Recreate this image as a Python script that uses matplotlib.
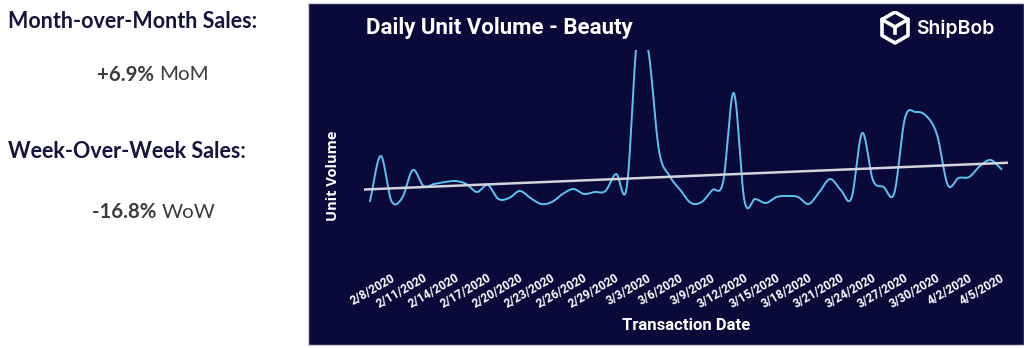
import numpy as np
import pandas as pd
import matplotlib
matplotlib.use("Agg")
import matplotlib.pyplot as plt
from matplotlib.patches import Rectangle, Polygon
from matplotlib.transforms import ScaledTranslation

# ---------------- data ----------------
dates = pd.date_range("2020-02-08", periods=60, freq="D")
unit_volume = [49, 94, 49, 52, 80, 64, 66, 68, 69, 66,
               58, 65, 51, 52, 59, 52, 46, 48, 56, 61,
               56, 58, 59, 76, 63, 215, 200, 100, 74, 60,
               47, 48, 60, 68, 157, 49, 51, 47, 53, 54,
               53, 46, 58, 71, 60, 52, 117, 70, 63, 57,
               132, 138, 134, 115, 65, 72, 73, 84, 90, 81]
tick_labels = ["2/8/2020", "2/11/2020", "2/14/2020", "2/17/2020", "2/20/2020",
               "2/23/2020", "2/26/2020", "2/29/2020", "3/3/2020", "3/6/2020",
               "3/9/2020", "3/12/2020", "3/15/2020", "3/18/2020", "3/21/2020",
               "3/24/2020", "3/27/2020", "3/30/2020", "4/2/2020", "4/5/2020"]
title = "Daily Unit Volume - Beauty"
mom_value, mom_unit = "+6.9%", "MoM"
wow_value, wow_unit = "-16.8%", "WoW"

# ---------------- styling ----------------
W, H = 1024, 348
BG = "#09093a"
LINE = "#5cc3f2"
TREND = "#d4d4dc"
NAVY = "#14143c"
GRAY = "#3c3c3c"

def fx(px):
    return px / W

def fy(py):
    return 1 - py / H

fig = plt.figure(figsize=(W / 100, H / 100), dpi=100)
fig.patch.set_facecolor("white")

# dark panel
fig.patches.append(Rectangle((fx(308), fy(345)), 1 - fx(308), (345 - 3) / H,
                             transform=fig.transFigure, facecolor=BG,
                             edgecolor="#cfcfd6", linewidth=1.0, zorder=-5))

# left KPI text
HEAD_FS, VAL_FS = 15.5, 14.7
fig.text(fx(8), fy(22), "Month-over-Month Sales:", fontsize=HEAD_FS, fontweight="bold",
         color=NAVY, family="Lato", va="center", ha="left")
t1 = fig.text(fx(97), fy(75), mom_value + " ", fontsize=VAL_FS, fontweight="bold",
              color=GRAY, family="Lato", va="center", ha="left")
fig.canvas.draw()
bb = t1.get_window_extent()
fig.text(bb.x1 / W, fy(75), mom_unit, fontsize=VAL_FS, color=GRAY, family="Lato",
         va="center", ha="left")

fig.text(fx(8), fy(151), "Week-Over-Week Sales:", fontsize=HEAD_FS, fontweight="bold",
         color=NAVY, family="Lato", va="center", ha="left")
t2 = fig.text(fx(92), fy(212), wow_value + " ", fontsize=VAL_FS, fontweight="bold",
              color=GRAY, family="Lato", va="center", ha="left")
fig.canvas.draw()
bb = t2.get_window_extent()
fig.text(bb.x1 / W, fy(212), wow_unit, fontsize=VAL_FS, color=GRAY, family="Lato",
         va="center", ha="left")

# chart axes
x = np.arange(len(unit_volume))
y = np.asarray(unit_volume, dtype=float)
ax = fig.add_axes([fx(363.6), fy(230), fx(1007.7) - fx(363.6), (230 - 50) / H])
ax.set_zorder(2)
ax.patch.set_visible(False)
ax.set_xlim(-0.6, len(x) - 1 + 0.6)
ax.set_ylim(20, 200)
for s in ax.spines.values():
    s.set_visible(False)

# smooth (Catmull-Rom) curve through the daily points
def catmull_rom(xs, ys, n=24):
    px = np.concatenate([[2 * xs[0] - xs[1]], xs, [2 * xs[-1] - xs[-2]]])
    py = np.concatenate([[2 * ys[0] - ys[1]], ys, [2 * ys[-1] - ys[-2]]])
    out_x, out_y = [], []
    t = np.linspace(0, 1, n, endpoint=False)
    for i in range(1, len(px) - 2):
        for arr, out in ((px, out_x), (py, out_y)):
            p0, p1, p2, p3 = arr[i - 1], arr[i], arr[i + 1], arr[i + 2]
            out.append(0.5 * ((2 * p1) + (-p0 + p2) * t +
                              (2 * p0 - 5 * p1 + 4 * p2 - p3) * t ** 2 +
                              (-p0 + 3 * p1 - 3 * p2 + p3) * t ** 3))
    out_x.append([xs[-1]]); out_y.append([ys[-1]])
    return np.concatenate(out_x), np.concatenate(out_y)

sx, sy = catmull_rom(x.astype(float), y)
ax.plot(sx, sy, color=LINE, linewidth=1.4, zorder=3, clip_on=True)

# linear trend line across the full x-range
coef = np.polyfit(x, y, 1)
tx = np.array(ax.get_xlim())
ax.plot(tx, np.polyval(coef, tx), color=TREND, linewidth=1.8, zorder=4)

ax.set_yticks([])
ax.set_xticks(x[::3])
ax.set_xticklabels(tick_labels, rotation=30, ha="right", va="top",
                   color="white", fontsize=8.6, fontweight="bold", family="Roboto")
ax.tick_params(axis="x", length=0, pad=30)
offset = ScaledTranslation(0.27, 0, fig.dpi_scale_trans)
for lab in ax.get_xticklabels():
    lab.set_transform(lab.get_transform() + offset)

# titles
fig.text(fx(366), fy(28), title, fontsize=16, fontweight="bold", color="white",
         family="Roboto", va="center", ha="left")
fig.text(fx(686), fy(325), "Transaction Date", fontsize=12, fontweight="bold",
         color="white", family="Roboto", va="center", ha="center")
fig.text(fx(333), fy(176), "Unit Volume", fontsize=10.5, fontweight="bold",
         color="white", family="Open Sans", va="center", ha="center", rotation=90)

# ShipBob logo
lax = fig.add_axes([fx(880), fy(45), fx(30), 34 / H])
lax.set_zorder(3)
lax.set_xlim(0, 30); lax.set_ylim(0, 34); lax.axis("off")
hexa = [(15, 33), (28, 25.5), (28, 9.5), (15, 2), (2, 9.5), (2, 25.5)]
lax.add_patch(Polygon(hexa, closed=True, fill=False, edgecolor="white",
                      linewidth=2.6, joinstyle="round"))
lax.plot([2, 15, 28], [25.5, 18, 25.5], color="white", linewidth=2.6,
         solid_joinstyle="round")
lax.plot([15, 15], [18, 12], color="white", linewidth=2.6)
fig.text(fx(916), fy(29), "ShipBob", fontsize=14, fontweight="semibold",
         color="white", family="Inter", va="center", ha="left")

fig.savefig("out.png", dpi=100, facecolor=fig.get_facecolor())
